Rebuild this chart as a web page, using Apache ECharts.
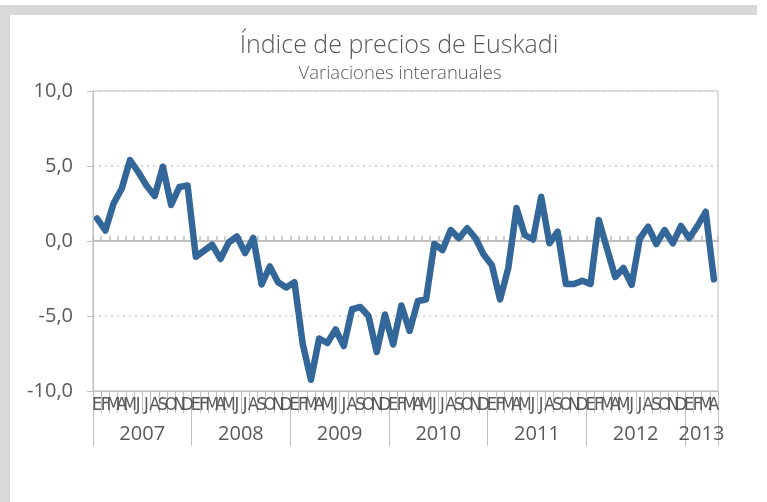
<!DOCTYPE html>
<html>
<head>
<meta charset="utf-8">
<script src="https://cdn.jsdelivr.net/npm/echarts@6/dist/echarts.min.js"></script>
<style>
  html, body { margin: 0; padding: 0; background: #ffffff; }
  #wrap { position: relative; width: 767px; height: 502px; overflow: hidden; }
  .band { position: absolute; background: #d9d9d9; }
  #chart { position: absolute; left: 0; top: 0; width: 767px; height: 502px; }
</style>
</head>
<body>
<div id="wrap">
  <div class="band" style="left:0;top:5px;width:757px;height:10px;"></div>
  <div class="band" style="left:0;top:5px;width:10px;height:497px;"></div>
  <div id="chart"></div>
</div>
<script>
// Month initials (Spanish) for each observation, Jan 2007 - Apr 2013
const monthInitials = ['E', 'F', 'M', 'A', 'M', 'J', 'J', 'A', 'S', 'O', 'N', 'D'];
const years = ['2007', '2008', '2009', '2010', '2011', '2012', '2013'];
const monthsInLastYear = 4;

// Year-on-year variation, one value per month
const v2007 = [1.5, 0.7, 2.5, 3.5, 5.4, 4.6, 3.7, 3.0, 4.95, 2.4, 3.6, 3.7];
const v2008 = [-1.05, -0.65, -0.25, -1.2, -0.1, 0.3, -0.8, 0.2, -2.9, -1.7, -2.75, -3.1];
const v2009 = [-2.75, -6.85, -9.25, -6.5, -6.8, -5.9, -7.0, -4.55, -4.4, -5.0, -7.4, -4.9];
const v2010 = [-6.9, -4.3, -6.0, -4.0, -3.9, -0.2, -0.6, 0.73, 0.18, 0.85, 0.2, -0.9];
const v2011 = [-1.6, -3.9, -1.8, 2.2, 0.4, 0.1, 2.95, -0.15, 0.62, -2.87, -2.87, -2.65];
const v2012 = [-2.87, 1.4, -0.5, -2.4, -1.8, -2.93, 0.18, 0.96, -0.2, 0.73, -0.16, 1.0];
const v2013 = [0.18, 1.0, 1.95, -2.55];

const yTicks = { min: -10, max: 10, step: 5 };

const values = [].concat(v2007, v2008, v2009, v2010, v2011, v2012, v2013);
const monthLabels = [];
const yearOfMonth = [];
years.forEach(function (y, yi) {
  const n = yi === years.length - 1 ? monthsInLastYear : 12;
  for (let m = 0; m < n; m++) {
    monthLabels.push(monthInitials[m]);
    yearOfMonth.push(y);
  }
});
const lastIndex = monthLabels.length - 1;

const grey = '#595959';
const lineGrey = '#bfbfbf';
const font = '"Open Sans", "Noto Sans", sans-serif';

const chart = echarts.init(document.getElementById('chart'), null, { renderer: 'canvas' });
chart.setOption({
  animation: false,
  title: [
    {
      text: 'Índice de precios de Euskadi',
      left: 399, top: 33, textAlign: 'center', padding: 0,
      textStyle: { fontFamily: font, fontWeight: 300, fontSize: 25, color: grey }
    },
    {
      text: 'Variaciones interanuales',
      left: 400, top: 64, textAlign: 'center', padding: 0,
      textStyle: { fontFamily: font, fontWeight: 300, fontSize: 18.5, color: grey }
    }
  ],
  grid: {
    left: 93, right: 49, top: 91, bottom: 111,
    show: true, borderColor: lineGrey, borderWidth: 1, backgroundColor: 'transparent'
  },
  xAxis: [
    {
      // month initials along the bottom edge
      type: 'category', data: monthLabels, boundaryGap: true, position: 'bottom',
      axisLine: { onZero: false, lineStyle: { color: lineGrey, width: 1 } },
      axisTick: { show: true, interval: 0, length: 22, lineStyle: { color: lineGrey, width: 1 } },
      axisLabel: {
        interval: 0, margin: 5, color: grey, fontSize: 18,
        fontFamily: '"Liberation Sans Narrow", "DejaVu Sans Condensed", "Roboto Condensed", sans-serif'
      },
      splitLine: { show: false }
    },
    {
      // year level: separators at year boundaries, label in the middle of each year
      type: 'category', data: yearOfMonth, boundaryGap: true, position: 'bottom',
      axisLine: { show: false, onZero: false },
      axisTick: {
        show: true, length: 55, lineStyle: { color: lineGrey, width: 1 },
        interval: function (i) { return i % 12 === 0; }
      },
      axisLabel: {
        margin: 33, color: grey, fontSize: 20, fontFamily: font, padding: [0, 0, 0, 8],
        interval: function (i) { return i % 12 === 5 || i === lastIndex - 2; }
      },
      splitLine: { show: false }
    },
    {
      // zero reference line with small ticks
      type: 'category', data: monthLabels, boundaryGap: true,
      axisLine: { show: true, onZero: true, onZeroAxisIndex: 0, lineStyle: { color: lineGrey, width: 2 } },
      axisTick: { show: true, interval: 0, length: 5, lineStyle: { color: lineGrey, width: 1.5 } },
      axisLabel: { show: false },
      splitLine: { show: false }
    }
  ],
  yAxis: {
    type: 'value', min: yTicks.min, max: yTicks.max, interval: yTicks.step,
    axisLine: { show: true, onZero: false, lineStyle: { color: lineGrey, width: 1 } },
    axisTick: { show: true, length: 6, lineStyle: { color: lineGrey } },
    axisLabel: {
      margin: 20, color: grey, fontSize: 20, fontFamily: font,
      formatter: function (v) { return v.toFixed(1).replace('.', ','); }
    },
    splitLine: { show: true, lineStyle: { color: '#cccccc', type: [2, 4], width: 1.5 } }
  },
  series: [{
    type: 'line', data: values, xAxisIndex: 0, yAxisIndex: 0,
    showSymbol: false, symbol: 'none', smooth: false,
    lineStyle: { color: '#336699', width: 6.5, join: 'round', cap: 'round' },
    z: 5
  }]
});
</script>
</body>
</html>
